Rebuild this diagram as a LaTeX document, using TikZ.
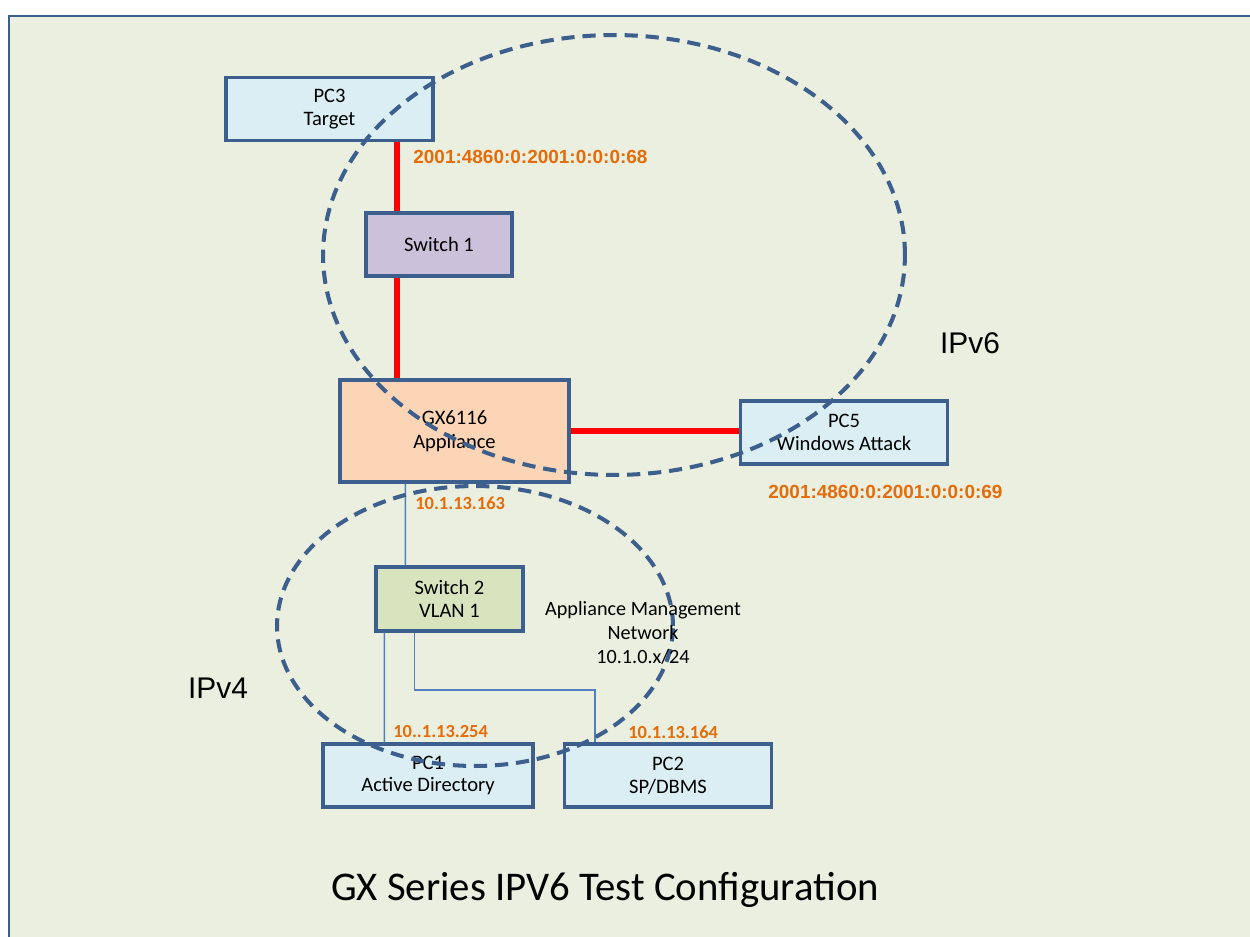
\documentclass[tikz,border=0pt]{standalone}
\usepackage{fontspec}
\setmainfont{Carlito}
\newfontfamily\arialfont{Liberation Sans}
\usetikzlibrary{positioning, calc}
\definecolor{panelbg}{HTML}{EBEFDF}
\definecolor{boxedge}{HTML}{3D5F8D}
\definecolor{pcfill}{HTML}{DBEEF4}
\definecolor{swfill}{HTML}{CCC1DA}
\definecolor{gxfill}{HTML}{FBD5B5}
\definecolor{vlanfill}{HTML}{D7E4BD}
\definecolor{ipcolor}{HTML}{E46C0A}
\definecolor{mgmtline}{HTML}{4F81BD}

\begin{document}
\begin{tikzpicture}[x=0.02cm,y=-0.02cm]
	\useasboundingbox (0,0) rectangle (1250,936);
	\clip (0,0) rectangle (1250,936);
	\tikzstyle{box}=[draw=boxedge,line width=1.8pt,text centered,align=center,inner sep=0pt,font=\fontsize{11.7}{13}\selectfont]
	\tikzstyle{pc-node}=[box,fill=pcfill,minimum width=4.14cm,minimum height=1.26cm]
	\tikzstyle{ip-lbl}=[anchor=west,text=ipcolor,inner sep=0pt,font=\arialfont\bfseries\fontsize{10.8}{12}\selectfont]
	\tikzstyle{ip4-lbl}=[ip-lbl,font=\bfseries\fontsize{10.5}{12}\selectfont]
	\tikzstyle{net-lbl}=[font=\arialfont\fontsize{17}{20}\selectfont]
	\tikzstyle{red-link}=[red,line width=3.6pt]
	\tikzstyle{mgmt-link}=[mgmtline,line width=0.9pt]
	\tikzstyle{zone}=[boxedge,line width=2.3pt,dash pattern=on 7.5pt off 4.5pt]

	% panel
	\draw[boxedge,line width=1.2pt,fill=panelbg] (9,16) rectangle (1270,960);

	% ipv6 side
	\node[pc-node,execute at begin node={\rule{0pt}{12pt}}] (pc3) at (329.5,109) {PC3\\Target};
	\node[box,fill=swfill,minimum width=2.92cm,minimum height=1.26cm] (sw1) at (439,244.5) {Switch 1};
	\node[box,fill=gxfill,minimum width=4.58cm,minimum height=2.04cm,font=\fontsize{11.7}{13.5}\selectfont,execute at begin node={\rule{0pt}{11.5pt}}] (gx) at (454.5,431) {GX6116\\Appliance};
	\node[pc-node] (pc5) at (844,432.5) {PC5\\Windows Attack};

	% ipv4 side
	\node[box,fill=vlanfill,minimum width=2.94cm,minimum height=1.28cm] (sw2) at (449.5,599) {Switch 2\\VLAN 1};
	\node[pc-node,minimum width=4.2cm,execute at begin node={\rule{0pt}{11pt}}] (pc1) at (428,775.5) {PC1\\Active Directory};
	\node[pc-node,execute at begin node={\rule{0pt}{11pt}}] (pc2) at (668,775.5) {PC2\\SP/DBMS};

	% links
	\coordinate (rx) at (397,0);
	\coordinate (bend) at (595,690);
	\path[red-link] (pc3.south -| rx) edge (sw1.north -| rx)
		(sw1.south -| rx) edge (gx.north -| rx)
		(gx.east) edge (gx.east -| pc5.west);
	\draw[mgmt-link] ($(gx.south west)+(67,0)$) -- ($(sw2.north west)+(31,0)$);
	\draw[mgmt-link] ($(sw2.south west)+(10,0)$) -- ($(pc1.north west)+(63,0)$);
	\draw[mgmt-link] ($(sw2.south west)+(40,0)$) |- (bend) -- (bend |- pc2.north);

	% zones
	\draw[zone] (614,255) ellipse [x radius=5.82cm,y radius=4.4cm];
	\draw[zone] (475,626) ellipse [x radius=3.96cm,y radius=2.8cm];

	% addresses
	\node[ip-lbl] (ip68) at (413,157) {2001:4860:0:2001:0:0:0:68};
	\node[ip-lbl] (ip69) at (768,492) {2001:4860:0:2001:0:0:0:69};
	\node[ip4-lbl] (ip163) at (415,503) {10.1.13.163};
	\node[ip4-lbl] (ip254) at (393,732) {10..1.13.254};
	\node[ip4-lbl] (ip164) at (628,732) {10.1.13.164};

	\node[net-lbl] (v6) at (970,343) {IPv6};
	\node[net-lbl] (v4) at (218,688) {IPv4};
	\node[align=center,font=\fontsize{11.5}{13.6}\selectfont] (mgmt) at (643,633) {Appliance Management\\Network\\10.1.0.x/24};

	\node[font=\fontsize{23.2}{26}\selectfont] (title) at (605,890) {GX Series IPV6 Test Configuration};
\end{tikzpicture}
\end{document}
